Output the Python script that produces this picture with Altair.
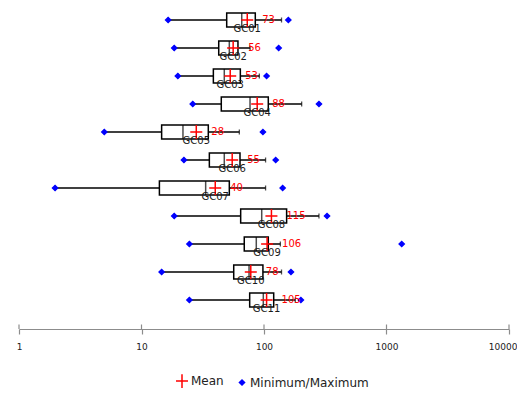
import altair as alt
import pandas as pd

categories = ["GC01", "GC02", "GC03", "GC04", "GC05", "GC06", "GC07", "GC08", "GC09", "GC10", "GC11"]
minimum = [16.5, 18.5, 19.8, 26.2, 4.97, 22.2, 1.97, 18.5, 24.6, 14.6, 24.6]
whisker_low = [16.5, 18.5, 19.8, 26.2, 4.97, 22.2, 1.97, 18.5, 24.6, 14.6, 24.6]
q1 = [49.6, 42.7, 38.6, 44.8, 14.6, 35.8, 14.0, 64.5, 69.0, 56.6, 76.4]
median = [65.8, 52.1, 47.4, 76.9, 21.8, 47.4, 33.4, 95.8, 86.5, 75.5, 98.7]
q3 = [84.9, 61.3, 64.1, 108.4, 35.1, 63.7, 52.1, 153.0, 108.4, 98.0, 120.0]
whisker_high = [139, 77, 91.6, 203, 62.9, 103, 103, 281, 136, 139, 180]
maximum = [158, 131.8, 105, 281, 98, 124.6, 142, 327, 1331, 166, 200]
mean = [73, 56, 53, 88, 28, 55, 40, 115, 106, 78, 105]
tick_values = [1, 10, 100, 1000, 10000]
legend_labels = ["Mean", "Minimum/Maximum"]

W, H = 490, 321
FONT = "DejaVu Sans"

df = pd.DataFrame({
    "cat": categories,
    "idx": list(range(len(categories))),
    "wlo": whisker_low,
    "q1": q1,
    "med": median,
    "q3": q3,
    "whi": whisker_high,
    "mean": mean,
})

rows = []
for i, c in enumerate(categories):
    rows.append({"idx": i, "value": mean[i], "kind": legend_labels[0]})
    rows.append({"idx": i, "value": minimum[i], "kind": legend_labels[1]})
    rows.append({"idx": i, "value": maximum[i], "kind": legend_labels[1]})
pts = pd.DataFrame(rows)
ticks_df = pd.DataFrame({"t": tick_values})

last_tick = tick_values[-1]
x_scale = alt.Scale(type="log", domain=[1, 10000], padding=0, nice=False)
y_scale = alt.Scale(domain=[-0.4286, 11.0357], reverse=True, padding=0, nice=False, zero=False)
x_axis = alt.Axis(
    values=tick_values, format="d", title=None, grid=False,
    domainColor="#8c8c8c", domainWidth=1.2, tickColor="#8c8c8c", tickWidth=1.2,
    tickSize=5, labelPadding=8, labelFont=FONT, labelFontSize=9,
    labelColor="#222222", labelFlush=False,
    labelAlign={"condition": {"test": f"datum.value == {last_tick}", "value": "right"}, "value": "center"},
    labelOffset={"condition": {"test": f"datum.value == {last_tick}", "value": 8}, "value": 0},
)


def X(field):
    return alt.X(field, type="quantitative", scale=x_scale, axis=x_axis)


Y = alt.Y("idx:Q", scale=y_scale, axis=None)

base = alt.Chart(df)

whisk = base.mark_rule(color="black", strokeWidth=1.3).encode(x=X("wlo"), x2="whi", y=Y)
caps = base.mark_tick(orient="vertical", size=5, thickness=1.3, color="black").encode(x=X("whi"), y=Y)
caps_lo = base.mark_tick(orient="vertical", size=5, thickness=1.3, color="black").encode(x=X("wlo"), y=Y)
box = base.mark_bar(size=14, fill="white", stroke="black", strokeWidth=1.5).encode(x=X("q1"), x2="q3", y=Y)
med = base.mark_tick(orient="vertical", size=14, thickness=1.5, color="black").encode(x=X("med"), y=Y)

cross_path = "M-1,0H1M0,-1.15V1.15"
shape_scale = alt.Scale(domain=legend_labels, range=[cross_path, "diamond"])
col_scale = alt.Scale(domain=legend_labels, range=["#ff0000", "#0000ff"])
size_scale = alt.Scale(domain=legend_labels, range=[144, 26])
leg = alt.Legend(
    title=None, orient="none", legendX=156, legendY=366, direction="horizontal",
    labelFont=FONT, labelFontSize=12, labelColor="#222222", columnPadding=12,
    labelOffset=2,
)
points = alt.Chart(pts).mark_point(filled=True, strokeWidth=1.5, opacity=1).encode(
    x=X("value"), y=Y,
    shape=alt.Shape("kind:N", scale=shape_scale, legend=leg),
    fill=alt.Fill("kind:N", scale=col_scale, legend=leg),
    stroke=alt.Stroke("kind:N", scale=col_scale, legend=leg),
    size=alt.Size("kind:N", scale=size_scale, legend=leg),
)

gc_labels = base.mark_text(font=FONT, fontSize=10, color="#1a1a1a", dy=9, baseline="middle").encode(
    x=X("mean"), y=Y, text="cat:N"
)
mean_labels = base.mark_text(font=FONT, fontSize=10, color="#ff0000", dx=15, align="left", baseline="middle").encode(
    x=X("mean"), y=Y, text="mean:Q"
)

up_ticks = alt.Chart(ticks_df).mark_rule(color="#8c8c8c", strokeWidth=1.2).encode(
    x=X("t"), y=alt.value(H - 4.5), y2=alt.value(H)
)

chart = alt.layer(whisk, caps_lo, caps, box, med, up_ticks, points, gc_labels, mean_labels).properties(
    width=W, height=H,
    autosize=alt.AutoSizeParams(type="none"),
    padding={"left": 11, "top": 0, "right": 8, "bottom": 61},
).configure_view(stroke=None)

chart.save("out.html", embed_options={"renderer": "svg", "actions": False})
